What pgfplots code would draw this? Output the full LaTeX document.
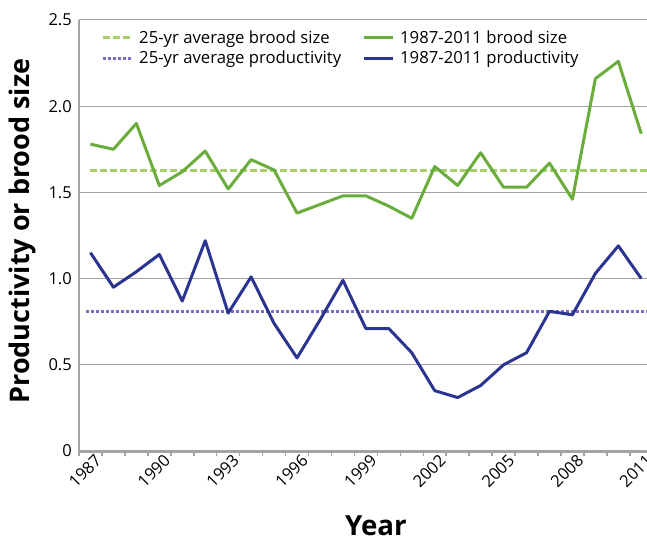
\documentclass[border=0pt]{standalone}
\usepackage{pgfplots}
\pgfplotsset{compat=1.18}
\usepackage{fontspec}
\setmainfont{Open Sans}
\definecolor{broodgreen}{HTML}{6AAD3D}
\definecolor{avggreen}{HTML}{A6D06A}
\definecolor{prodnavy}{HTML}{2B3590}
\definecolor{avgpurple}{HTML}{7A70C2}
\definecolor{axisgray}{HTML}{A3A3A3}
\pgfplotstableread{
year brood
1987 1.78
1988 1.75
1989 1.90
1990 1.54
1991 1.62
1992 1.74
1993 1.52
1994 1.69
1995 1.63
1996 1.38
1997 1.43
1998 1.48
1999 1.48
2000 1.42
2001 1.35
2002 1.65
2003 1.54
2004 1.73
2005 1.53
2006 1.53
2007 1.67
2008 1.46
2009 2.16
2010 2.26
2011 1.84
}\broodtable
\pgfplotstableread{
year prod
1987 1.15
1988 0.95
1989 1.04
1990 1.14
1991 0.87
1992 1.22
1993 0.80
1994 1.01
1995 0.74
1996 0.54
1997 0.76
1998 0.99
1999 0.71
2000 0.71
2001 0.57
2002 0.35
2003 0.31
2004 0.38
2005 0.50
2006 0.57
2007 0.81
2008 0.79
2009 1.03
2010 1.19
2011 1.00
}\prodtable
\begin{document}
\begin{tikzpicture}
\begin{axis}[
  scale only axis, width=573.75pt, height=431pt,
  at={(0,0)}, anchor=south west,
  xmin=1986.5, xmax=2011.5, ymin=0, ymax=2.5,
  axis lines*=left,
  x axis line style={axisgray, line width=3pt},
  y axis line style={axisgray, line width=2pt},
  xtick={1987,1990,...,2011},
  xticklabels={1987,1990,1993,1996,1999,2002,2005,2008,2011},
  minor xtick={1986.5,1987.5,...,2011.5},
  ytick={0,0.5,...,2.5},
  yticklabels={0,0.5,1.0,1.5,2.0,2.5},
  major tick length=0pt,
  minor tick length=5pt,
  tick align=outside,
  minor tick style={axisgray, line width=1.5pt},
  ymajorgrids,
  grid style={axisgray, line width=1pt},
  tick label style={font=\fontsize{16.5}{16.5}\selectfont, black},
  xticklabel style={rotate=45, anchor=north east, inner sep=2pt, xshift=3pt, yshift=-2pt},
  yticklabel style={inner sep=2pt, xshift=-5pt},
  ylabel={Productivity or brood size},
  xlabel={Year},
  every axis y label/.style={at={(axis description cs:-0.0993,0.51)}, rotate=90, anchor=center, font=\bfseries\fontsize{27}{27}\selectfont},
  every axis x label/.style={at={(axis description cs:0.5176,-0.1735)}, anchor=center, font=\bfseries\fontsize{27.7}{27.7}\selectfont},
  legend columns=2,
  legend cell align=left,
  legend style={draw=none, fill=none, at={(axis cs:1987.46,2.45)}, anchor=north west,
    font=\fontsize{16.7}{19}\selectfont, inner sep=0pt, row sep=2pt,
    /tikz/every even column/.append style={column sep=19pt}},
  legend image code/.code={\draw[#1, line cap=butt] (0pt,0pt) -- (29pt,0pt); \path (33pt,0pt);},
  line join=round,
]
\addplot[avggreen, line width=3pt, dash pattern=on 7pt off 3pt] coordinates {(1987,1.625) (2011.5,1.625)};
\addlegendentry{25-yr average brood size}
\addplot[broodgreen, line width=3pt] table[x=year, y=brood] {\broodtable};
\addlegendentry{1987-2011 brood size}
\addplot[avgpurple, line width=3pt, dash pattern=on 3pt off 2pt] coordinates {(1986.8,0.81) (2011.5,0.81)};
\addlegendentry{25-yr average productivity}
\addplot[prodnavy, line width=3pt] table[x=year, y=prod] {\prodtable};
\addlegendentry{1987-2011 productivity}
\end{axis}
\pgfresetboundingbox
\path[use as bounding box] (-79pt,-87pt) rectangle (568pt,451pt);
\end{tikzpicture}
\end{document}
